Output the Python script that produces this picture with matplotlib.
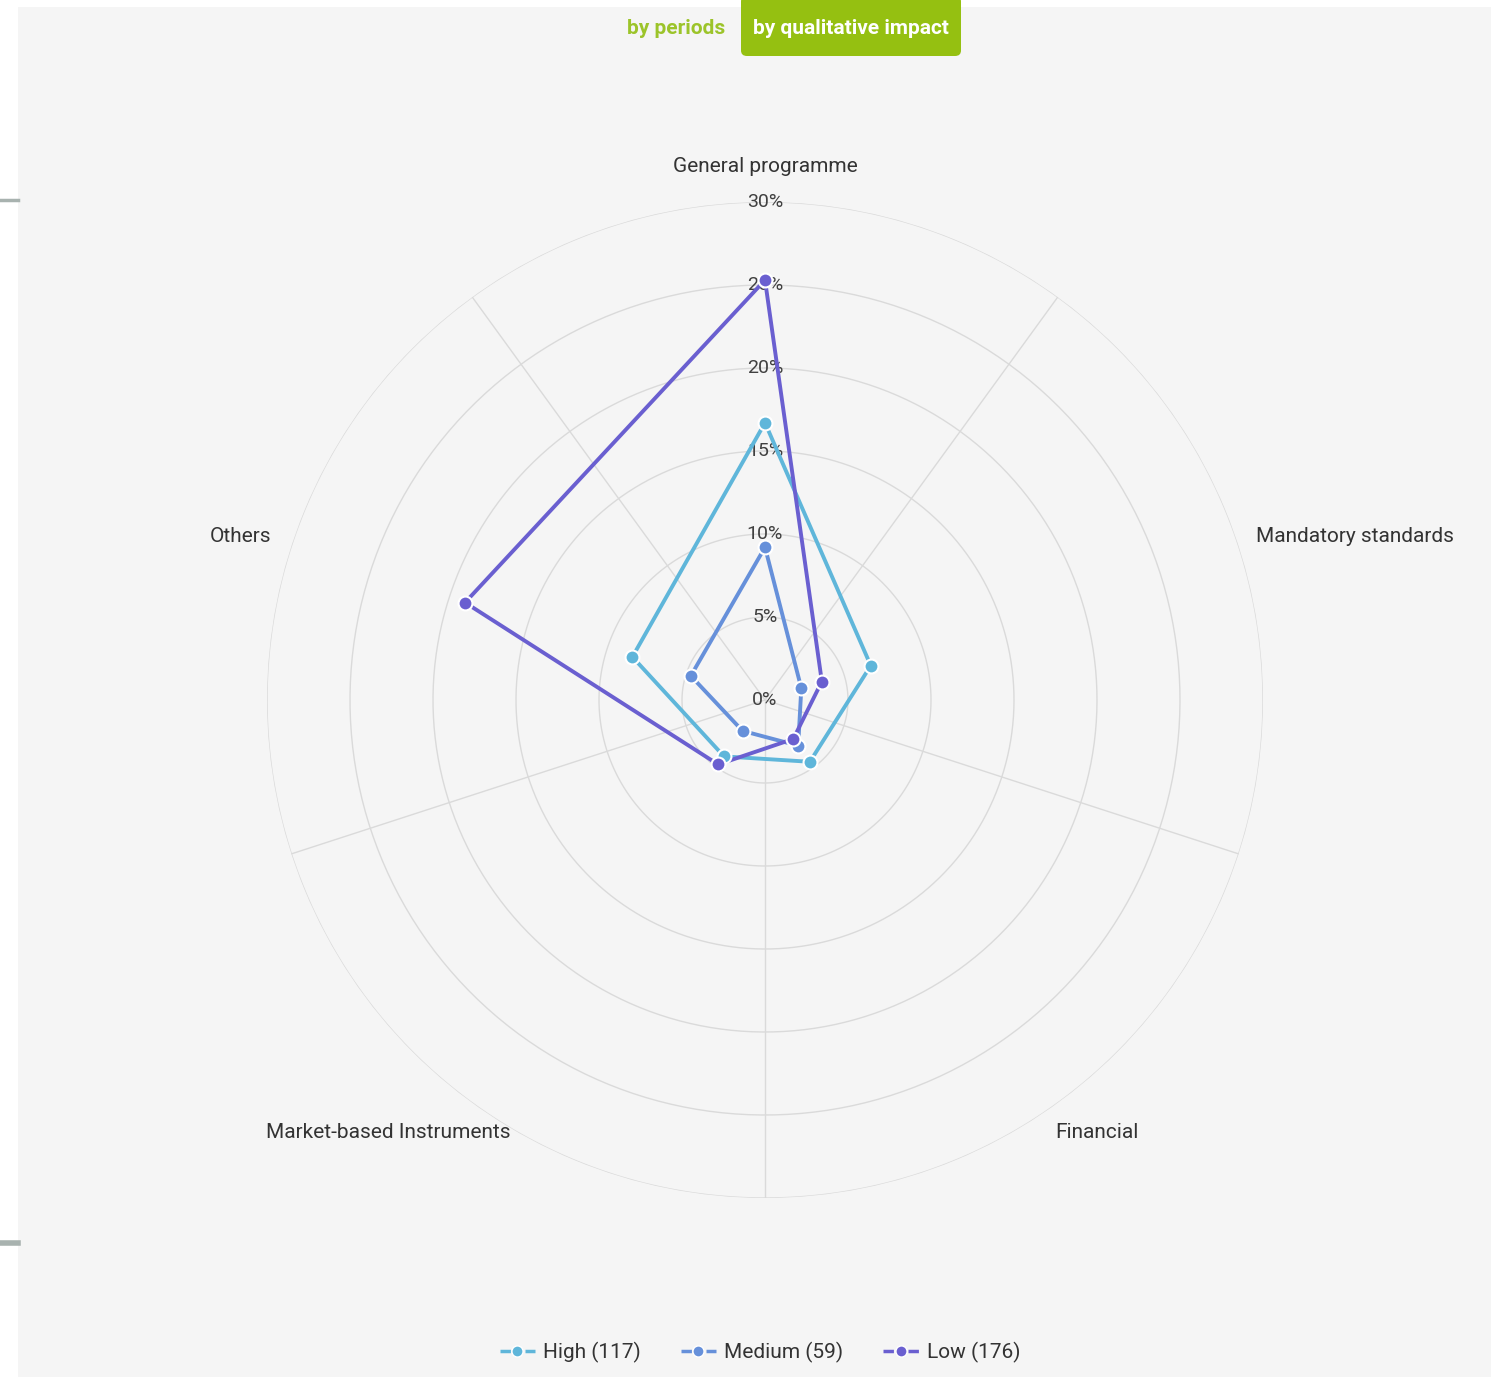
import numpy as np
import matplotlib.pyplot as plt
from matplotlib.lines import Line2D
from matplotlib.patches import FancyBboxPatch, Rectangle

plt.rcParams['font.family'] = ['Roboto', 'DejaVu Sans']

categories = ["General programme", "Mandatory standards", "Financial",
              "Market-based Instruments", "Others"]
high = [16.7, 6.7, 4.6, 4.2, 8.4]
medium = [9.2, 2.3, 3.4, 2.3, 4.7]
low = [25.3, 3.6, 2.9, 4.8, 19.0]
series_names = ["High (117)", "Medium (59)", "Low (176)"]
series_colors = ["#5fb6da", "#6690da", "#6a5fd0"]
radial_ticks = [0, 5, 10, 15, 20, 25, 30]
radial_labels = ["0%", "5%", "10%", "15%", "20%", "25%", "30%"]

W, H = 1491, 1377
fig = plt.figure(figsize=(W / 100, H / 100), dpi=100)
fig.patch.set_facecolor("white")

# page background
fig.patches.append(Rectangle((18 / W, 0), 1 - 18 / W, 1 - 7 / H, transform=fig.transFigure,
                             facecolor="#f5f5f5", edgecolor="none", zorder=-5))
# left stubs
fig.add_artist(Line2D([0, 18 / W], [1 - 200 / H] * 2, transform=fig.transFigure,
                      color="#a8b2af", lw=2.5, zorder=-4))
fig.add_artist(Line2D([0, 18 / W], [1 - 1243 / H] * 2, transform=fig.transFigure,
                      color="#a8b2af", lw=4, zorder=-4))

cx, cy, R = 765, 700, 498
ax = fig.add_axes([(cx - R) / W, (H - cy - R) / H, 2 * R / W, 2 * R / H], projection="polar")
ax.set_zorder(1)
ax.set_facecolor("none")
ax.set_theta_zero_location("N")
ax.set_theta_direction(-1)
ax.set_ylim(0, 30)
ax.grid(False)
ax.set_xticks([])
ax.set_yticks([])
ax.spines["polar"].set_visible(False)

n = len(categories)
angles = np.arange(n) * 2 * np.pi / n

# grid circles
tt = np.linspace(0, 2 * np.pi, 400)
for r in radial_ticks[1:]:
    ax.plot(tt, np.full_like(tt, r), color="#dadada", lw=1.0, zorder=1)
# spokes (between categories)
for a in angles + np.pi / n:
    ax.plot([a, a], [0, 30], color="#dadada", lw=1.0, zorder=1)

# radial labels
for r, lab in zip(radial_ticks, radial_labels):
    ax.text(0, r, lab, ha="center", va="center", fontsize=14, color="#404040", zorder=2)

# series
for vals, name, col in zip([high, medium, low], series_names, series_colors):
    th = np.concatenate([angles, angles[:1]])
    rv = np.concatenate([vals, vals[:1]])
    ax.plot(th, rv, color=col, lw=2.8, zorder=3, solid_capstyle="round")
    ax.plot(angles, vals, linestyle="none", marker="o", markersize=10,
            markerfacecolor=col, markeredgecolor="white", markeredgewidth=1.5, zorder=4)

# category labels (pixel positions)
def ftext(x, y, s, **kw):
    fig.text(x / W, 1 - y / H, s, **kw)

lab_kw = dict(fontsize=15, color="#333333", va="center")
ftext(765, 167, categories[0], ha="center", **lab_kw)
ftext(1256, 536, categories[1], ha="left", **lab_kw)
ftext(1055, 1132, categories[2], ha="left", **lab_kw)
ftext(510, 1132, categories[3], ha="right", **lab_kw)
ftext(271, 536, categories[4], ha="right", **lab_kw)

# top buttons
fig.patches.append(FancyBboxPatch((741 / W, 1 - 56 / H), 220 / W, 60 / H,
                                  boxstyle="round,pad=0,rounding_size=0.004",
                                  transform=fig.transFigure, facecolor="#95c011",
                                  edgecolor="none", zorder=5))
ftext(676, 28, "by periods", ha="center", va="center", fontsize=15,
      fontweight="bold", color="#9cc42a", zorder=6)
ftext(851, 28, "by qualitative impact", ha="center", va="center", fontsize=15,
      fontweight="bold", color="white", zorder=6)

# legend
handles = [Line2D([0], [0], color=c, lw=2.5, linestyle=(0, (3, 4.2)), marker="o",
                  markersize=8, markerfacecolor=c, markeredgecolor="white")
           for c in series_colors]
fig.legend(handles, series_names, loc="center", bbox_to_anchor=(760 / W, 1 - 1352 / H),
           ncol=3, frameon=False, fontsize=15, handlelength=1.7, columnspacing=1.9,
           handletextpad=0.4, labelcolor="#333333")

fig.savefig("out.png", dpi=100, facecolor=fig.get_facecolor())
